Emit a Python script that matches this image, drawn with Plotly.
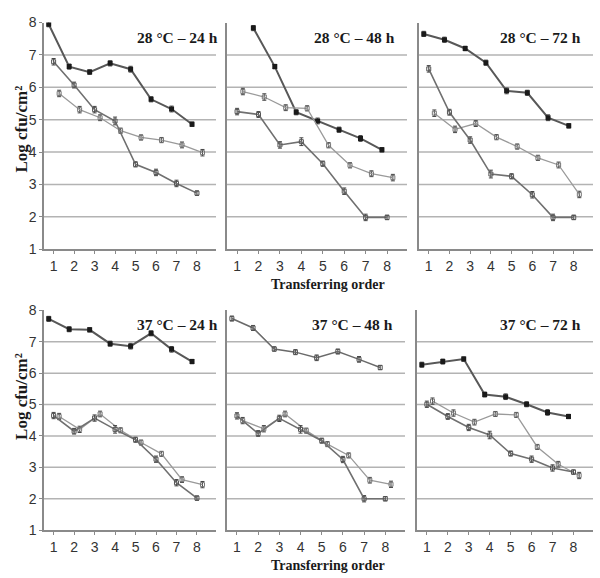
import plotly.graph_objects as go

orders = [1, 2, 3, 4, 5, 6, 7, 8]
panel_titles = ["28 °C – 24 h", "28 °C – 48 h", "28 °C – 72 h",
                "37 °C – 24 h", "37 °C – 48 h", "37 °C – 72 h"]

# series A (filled squares, plotted slightly left)
a_28_24 = [7.95, 6.64, 6.47, 6.74, 6.56, 5.63, 5.33, 4.86]
a_28_48 = [None, 7.83, 6.64, 5.23, 4.96, 4.69, 4.42, 4.07]
a_28_72 = [7.65, 7.47, 7.20, 6.76, 5.89, 5.83, 5.06, 4.81]
a_37_24 = [7.73, 7.40, 7.38, 6.94, 6.86, 7.27, 6.76, 6.37]
a_37_48 = [7.74, 7.44, 6.77, 6.67, 6.49, 6.69, 6.44, 6.18]
a_37_72 = [6.27, 6.37, 6.45, 5.32, 5.25, 5.01, 4.75, 4.62]
# series B (centred)
b_28_24 = [6.79, 6.07, 5.31, 4.96, 3.62, 3.37, 3.03, 2.73]
b_28_48 = [5.25, 5.16, 4.22, 4.32, 3.64, 2.79, 1.98, 1.98]
b_28_72 = [6.57, 5.23, 4.37, 3.32, 3.25, 2.68, 1.98, 1.98]
b_37_24 = [4.65, 4.15, 4.57, 4.21, 3.88, 3.26, 2.51, 2.02]
b_37_48 = [4.64, 4.08, 4.56, 4.21, 3.85, 3.25, 2.00, 2.00]
b_37_72 = [5.01, 4.62, 4.27, 4.03, 3.44, 3.26, 2.98, 2.85]
# series C (plotted slightly right)
c_28_24 = [5.81, 5.31, 5.06, 4.66, 4.45, 4.37, 4.22, 3.98]
c_28_48 = [5.87, 5.70, 5.37, 5.35, 4.21, 3.59, 3.33, 3.21]
c_28_72 = [5.20, 4.70, 4.88, 4.46, 4.17, 3.82, 3.60, 2.69]
c_37_24 = [4.62, 4.21, 4.70, 4.18, 3.79, 3.43, 2.61, 2.45]
c_37_48 = [4.49, 4.23, 4.70, 4.17, 3.74, 3.38, 2.59, 2.46]
c_37_72 = [5.11, 4.73, 4.44, 4.70, 4.67, 3.65, 3.10, 2.74]

err_a = [0.08, 0.08, 0.07, 0.08, 0.09, 0.08, 0.09, 0.07]
err_b = [0.10, 0.09, 0.10, 0.12, 0.08, 0.10, 0.10, 0.07]
err_c = [0.10, 0.10, 0.09, 0.08, 0.08, 0.08, 0.09, 0.10]

A = [a_28_24, a_28_48, a_28_72, a_37_24, a_37_48, a_37_72]
B = [b_28_24, b_28_48, b_28_72, b_37_24, b_37_48, b_37_72]
C = [c_28_24, c_28_48, c_28_72, c_37_24, c_37_48, c_37_72]

W, H = 600, 578
# panel pixel boxes (left, right, top, bottom)
boxes = [(44, 216, 15, 248), (227, 407, 15, 248), (419, 593, 15, 248),
         (44, 216, 311, 537), (227, 405, 311, 537), (417, 593, 311, 537)]
offsets = {"A": -0.24, "B": 0.0, "C": 0.27}
styles = {
    "A": dict(line=dict(color="#585858", width=2.0),
              marker=dict(symbol="square", size=5, color="#1a1a1a")),
    "B": dict(line=dict(color="#707070", width=1.6),
              marker=dict(symbol="square-open", size=4, color="#555555", line=dict(width=1))),
    "C": dict(line=dict(color="#9a9a9a", width=1.3),
              marker=dict(symbol="square-open", size=4, color="#777777", line=dict(width=1))),
}
light_a = dict(line=dict(color="#6a6a6a", width=1.5),
               marker=dict(symbol="square-open", size=4, color="#555555", line=dict(width=1)))
errs = {"A": err_a, "B": err_b, "C": err_c}

fig = go.Figure()
serif = "Liberation Serif, Times New Roman, serif"
tickfont = dict(family="Liberation Sans Narrow, Liberation Sans, Arial", size=14, color="#333333")

for i, (l, r, t, b) in enumerate(boxes):
    k = "" if i == 0 else str(i + 1)
    xa, ya = "x" + k, "y" + k
    for name, data in (("A", A[i]), ("C", C[i]), ("B", B[i])):
        xs = [o + offsets[name] for o in orders]
        st = light_a if (name == "A" and i == 4) else styles[name]
        fig.add_trace(go.Scatter(
            x=xs, y=data, mode="lines+markers", xaxis=xa, yaxis=ya,
            line=st["line"], marker=st["marker"], connectgaps=False,
            error_y=dict(type="data", array=errs[name], color="#444444", thickness=1, width=2),
            showlegend=False, hoverinfo="skip"))
    left_col = i in (0, 3)
    fig.update_layout(**{
        ("xaxis" + k): dict(domain=[l / W, r / W], range=[0.53, 8.93], anchor=ya,
                            tickvals=orders, showline=True, linecolor="#8a8a8a", linewidth=1.5,
                            ticks="outside", ticklen=3, tickcolor="#8a8a8a",
                            showgrid=False, zeroline=False, tickfont=tickfont),
        ("yaxis" + k): dict(domain=[1 - b / H, 1 - t / H], range=[1, 8], anchor=xa,
                            tickvals=[1, 2, 3, 4, 5, 6, 7, 8], showticklabels=left_col,
                            showline=True, linecolor="#8a8a8a", linewidth=1.5,
                            ticks="outside" if left_col else "", ticklen=3, tickcolor="#8a8a8a",
                            showgrid=False, zeroline=False, tickfont=tickfont),
    })
    for g in [2, 3, 4, 5, 6, 7]:
        fig.add_shape(type="line", xref=xa + " domain", yref=ya, x0=0, x1=1, y0=g, y1=g,
                      line=dict(color="#b3b3b3", width=1.5), layer="below")
    fig.add_annotation(text="<b>" + panel_titles[i] + "</b>", xref="paper", yref=ya,
                       x=(r - 10) / W if i % 3 != 0 else (r + 4) / W, y=7.55,
                       xanchor="right", yanchor="middle", showarrow=False,
                       font=dict(family=serif, size=15.5, color="#1a1a1a"))

for yc in (125, 400):
    fig.add_annotation(text="<b>Log cfu/cm²</b>", xref="paper", yref="paper",
                       x=22 / W, y=1 - yc / H, textangle=-90, showarrow=False,
                       xanchor="center", yanchor="middle",
                       font=dict(family=serif, size=17, color="#1a1a1a"))
for yc in (284, 573):
    fig.add_annotation(text="<b>Transferring order</b>", xref="paper", yref="paper",
                       x=328 / W, y=1 - yc / H, showarrow=False,
                       xanchor="center", yanchor="middle",
                       font=dict(family=serif, size=14, color="#1a1a1a"))

fig.update_layout(width=W, height=H, margin=dict(l=0, r=0, t=0, b=0),
                  paper_bgcolor="white", plot_bgcolor="white")
fig.write_html("out.html")
